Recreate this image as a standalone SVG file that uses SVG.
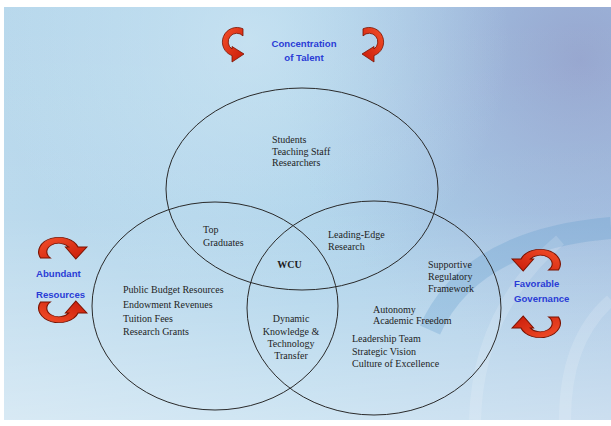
<svg xmlns="http://www.w3.org/2000/svg" width="611" height="426" viewBox="0 0 611 426">
<defs>
<linearGradient id="bgH" x1="0" y1="0" x2="1" y2="0">
<stop offset="0" stop-color="#b8d8ec"/>
<stop offset="0.5" stop-color="#a8d0e9"/>
<stop offset="1" stop-color="#a2c4e3"/>
</linearGradient>
<radialGradient id="tint" gradientUnits="userSpaceOnUse" cx="580" cy="60" r="300">
<stop offset="0" stop-color="#939cc8" stop-opacity="0.75"/>
<stop offset="0.45" stop-color="#98a8d2" stop-opacity="0.45"/>
<stop offset="1" stop-color="#a0b8dc" stop-opacity="0"/>
</radialGradient>
<linearGradient id="bgV" x1="0" y1="0" x2="0" y2="1">
<stop offset="0" stop-color="#ffffff" stop-opacity="0"/>
<stop offset="0.5" stop-color="#ffffff" stop-opacity="0.05"/>
<stop offset="1" stop-color="#ffffff" stop-opacity="0.45"/>
</linearGradient>
<radialGradient id="glow" gradientUnits="userSpaceOnUse" cx="250" cy="40" r="260">
<stop offset="0" stop-color="#d0e7f4" stop-opacity="0.7"/>
<stop offset="1" stop-color="#d0e7f4" stop-opacity="0"/>
</radialGradient>
<linearGradient id="red" x1="0" y1="0" x2="1" y2="1">
<stop offset="0" stop-color="#f4502a"/>
<stop offset="1" stop-color="#c81a08"/>
</linearGradient>
<path id="arr" d="M 6,-13.2 A 14.5 14.5 0 1 0 -5,13.6 L -5,20 L 7,12 L -5,4.5 L -5,7 A 8.6 8.6 0 1 1 6,-6.1 Z"/>
<style>
.ring{fill:none;stroke:#2a2a2a;stroke-width:1}
.t{font-size:10px;fill:#1e1e1e}
.b{font-size:9.6px;font-weight:bold;fill:#2a3cd6}
.a{fill:url(#red);stroke:#7a1200;stroke-width:0.8;vector-effect:non-scaling-stroke}
</style>
</defs>
<rect width="611" height="426" fill="#ffffff"/>
<rect x="4" y="7" width="607" height="413" fill="url(#bgH)"/>
<rect x="4" y="7" width="607" height="413" fill="url(#tint)"/>
<rect x="4" y="7" width="607" height="413" fill="url(#glow)"/>
<rect x="4" y="7" width="607" height="413" fill="url(#bgV)"/>
<g id="globe" fill="none">
<path d="M 430,330 Q 470,240 611,228" stroke="#5f9bcc" stroke-opacity="0.28" stroke-width="22"/>
<path d="M 475,420 Q 478,310 560,240" stroke="#ffffff" stroke-opacity="0.15" stroke-width="12"/>
<path d="M 565,420 Q 565,340 611,300" stroke="#ffffff" stroke-opacity="0.15" stroke-width="12"/>
</g>
<g id="connectors">
<ellipse id="talent" class="ring" cx="302" cy="189" rx="136" ry="101"/>
<ellipse id="resources" class="ring" cx="215" cy="306" rx="123" ry="104"/>
<ellipse id="governance" class="ring" cx="374" cy="308" rx="127" ry="107"/>
</g>
<g id="arrows">
<use href="#arr" class="a" transform="translate(237,42)"/>
<use href="#arr" class="a" transform="translate(369,42) scale(-1,1)"/>
<use href="#arr" class="a" transform="matrix(0,1,1.4,0,59,252)"/>
<use href="#arr" class="a" transform="matrix(0,-1,1.4,0,59,308)"/>
<use href="#arr" class="a" transform="matrix(0,1,-1.4,0,540,264)"/>
<use href="#arr" class="a" transform="matrix(0,-1,-1.4,0,540,323)"/>
</g>
<g font-family="'Liberation Sans', Arial, sans-serif">
<g id="label-talent">
<text class="b" x="304" y="47" text-anchor="middle">Concentration</text>
<text class="b" x="304" y="61" text-anchor="middle">of Talent</text>
</g>
<g id="label-resources">
<text class="b" x="36" y="277">Abundant</text>
<text class="b" x="36" y="298">Resources</text>
</g>
<g id="label-governance">
<text class="b" x="514" y="287">Favorable</text>
<text class="b" x="514" y="302">Governance</text>
</g>
</g>
<g font-family="'Liberation Serif', 'Times New Roman', serif">
<g id="node-talent">
<text class="t" x="272" y="143">Students</text>
<text class="t" x="272" y="154.5">Teaching Staff</text>
<text class="t" x="272" y="166">Researchers</text>
</g>
<g id="node-graduates">
<text class="t" x="203" y="233">Top</text>
<text class="t" x="203" y="246">Graduates</text>
</g>
<g id="node-research">
<text class="t" x="328" y="238">Leading-Edge</text>
<text class="t" x="328" y="250">Research</text>
</g>
<g id="node-wcu">
<text class="t" x="289.5" y="268" text-anchor="middle" font-weight="bold">WCU</text>
</g>
<g id="node-resources">
<text class="t" x="123" y="293">Public Budget Resources</text>
<text class="t" x="123" y="308">Endowment Revenues</text>
<text class="t" x="123" y="322">Tuition Fees</text>
<text class="t" x="123" y="335">Research Grants</text>
</g>
<g id="node-transfer">
<text class="t" x="291" y="322" text-anchor="middle">Dynamic</text>
<text class="t" x="291" y="334.5" text-anchor="middle">Knowledge &amp;</text>
<text class="t" x="291" y="346.5" text-anchor="middle">Technology</text>
<text class="t" x="291" y="358.5" text-anchor="middle">Transfer</text>
</g>
<g id="node-regulatory">
<text class="t" x="428" y="268">Supportive</text>
<text class="t" x="428" y="280">Regulatory</text>
<text class="t" x="428" y="292">Framework</text>
</g>
<g id="node-governance">
<text class="t" x="373" y="313">Autonomy</text>
<text class="t" x="373" y="324">Academic Freedom</text>
<text class="t" x="352" y="342">Leadership Team</text>
<text class="t" x="352" y="355">Strategic Vision</text>
<text class="t" x="352" y="367">Culture of Excellence</text>
</g>
</g>
</svg>
